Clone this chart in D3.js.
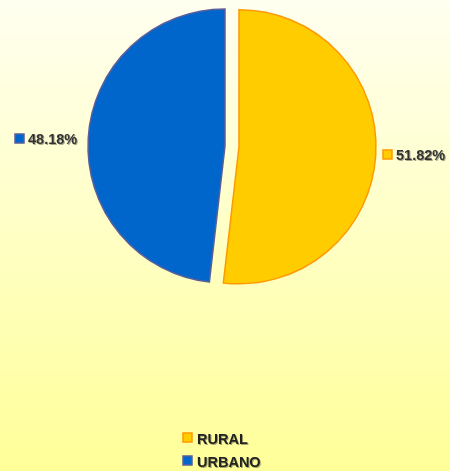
<!DOCTYPE html>
<html>
<head>
<meta charset="utf-8">
<script src="https://cdn.jsdelivr.net/npm/d3@7"></script>
<style>
  body { margin: 0; }
  text { font-family: Arial, "Liberation Sans", sans-serif; }
</style>
</head>
<body>
<div id="chart"></div>
<script>
const width = 450;
const height = 471;

// datos
const categories = ["RURAL", "URBANO"];
const values = [51.82, 48.18];
const fills = ["#ffcc00", "#0066cc"];
const strokes = ["#ff9900", "#5a5f9a"];

const svg = d3.select("#chart").append("svg")
    .attr("width", width)
    .attr("height", height);

// fondo degradado
const defs = svg.append("defs");
const grad = defs.append("linearGradient")
    .attr("id", "bg").attr("x1", 0).attr("y1", 0).attr("x2", 0).attr("y2", 1);
grad.append("stop").attr("offset", "0%").attr("stop-color", "#fffff0");
grad.append("stop").attr("offset", "100%").attr("stop-color", "#ffff99");

svg.append("rect").attr("width", width).attr("height", height).attr("fill", "url(#bg)");

const shadow = defs.append("filter").attr("id", "sh")
    .attr("x", "-10%").attr("y", "-10%").attr("width", "130%").attr("height", "130%");
shadow.append("feDropShadow").attr("dx", 1).attr("dy", 1).attr("stdDeviation", 0.6)
    .attr("flood-color", "#000").attr("flood-opacity", 0.35);

const cx = 225, cy = 146, r = 137;
const explode = 14;

const pie = d3.pie().sort(null).value(d => d)(values);
const arc = d3.arc().innerRadius(0).outerRadius(r);

const g = svg.append("g").attr("transform", `translate(${cx},${cy})`);

g.selectAll("path")
    .data(pie)
    .enter().append("path")
    .attr("d", arc)
    .attr("fill", (d, i) => fills[i])
    .attr("stroke", (d, i) => strokes[i])
    .attr("stroke-width", 1.5)
    .attr("transform", (d, i) => {
        if (i !== 0) return null;
        const a = (d.startAngle + d.endAngle) / 2;
        return `translate(${Math.sin(a) * explode},${-Math.cos(a) * explode})`;
    });

// etiquetas
const labelPos = [
    {x: 383, y: 150},
    {x: 15, y: 134}
];
pie.forEach((d, i) => {
    const lp = labelPos[i];
    g.append("rect")
        .attr("x", lp.x - cx).attr("y", lp.y - cy)
        .attr("width", 9).attr("height", 9)
        .attr("fill", fills[i]).attr("stroke", strokes[i]).attr("stroke-width", 1.5);
    g.append("text")
        .attr("x", lp.x - cx + 13).attr("y", lp.y - cy + 10)
        .attr("font-size", 14.5).attr("font-weight", "bold").attr("fill", "#333")
        .attr("filter", "url(#sh)")
        .text(values[i].toFixed(2) + "%");
});

// leyenda
const legend = svg.append("g").attr("transform", "translate(183,433)");
categories.forEach((c, i) => {
    const row = legend.append("g").attr("transform", `translate(0,${i * 23})`);
    row.append("rect").attr("width", 9).attr("height", 9)
        .attr("fill", fills[i]).attr("stroke", strokes[i]).attr("stroke-width", 1.5);
    row.append("text").attr("x", 14).attr("y", 10.5)
        .attr("font-size", 14.5).attr("fill", "#222").attr("font-weight", "bold")
        .attr("filter", "url(#sh)")
        .text(c);
});
</script>
</body>
</html>
